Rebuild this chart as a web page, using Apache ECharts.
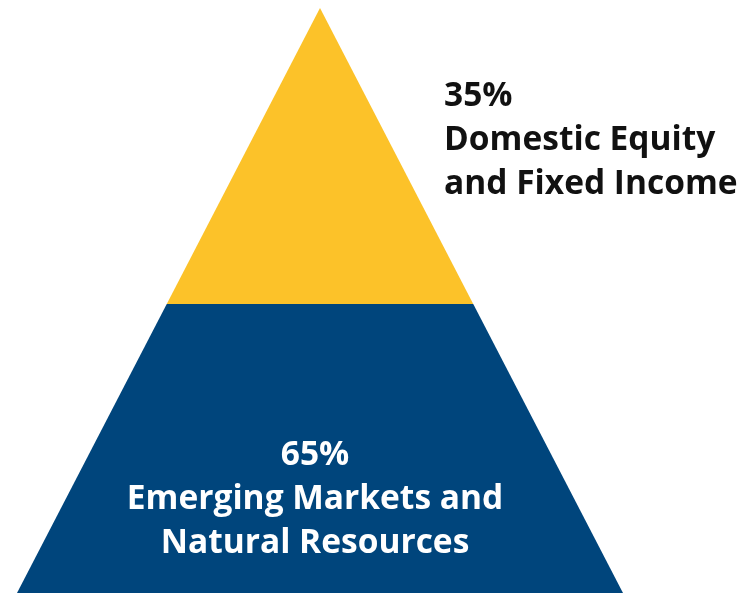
<!DOCTYPE html>
<html>
<head>
<meta charset="utf-8">
<script src="https://cdn.jsdelivr.net/npm/echarts@6/dist/echarts.min.js"></script>
<style>
html, body { margin: 0; padding: 0; background: #ffffff; }
#chart { width: 742px; height: 593px; }
</style>
</head>
<body>
<div id="chart"></div>
<script>
// Data
const categories = ['Domestic Equity and Fixed Income', 'Emerging Markets and Natural Resources'];
const shares = [35, 65];
const labelLines = [['Domestic Equity', 'and Fixed Income'], ['Emerging Markets and', 'Natural Resources']];
const colors = ['#FCC229', '#00457C'];

const chart = echarts.init(document.getElementById('chart'), null, { renderer: 'canvas' });

const fontFamily = '"Open Sans", "Liberation Sans", sans-serif';

function labelFormatter(p) {
  const i = p.dataIndex;
  const lines = ['{l|' + shares[i] + '%}'].concat(labelLines[i].map(function (s) { return '{l|' + s + '}'; }));
  return lines.join('\n');
}

// padding is used to shift the label block away from the segment centre
const labelCfg = [
  {
    show: true,
    position: 'inside',
    padding: [0, 0, 32, 548],
    formatter: labelFormatter,
    rich: {
      l: { fontFamily: fontFamily, fontSize: 33.5, fontWeight: 'bold', color: '#111111', lineHeight: 44, width: 300, align: 'left' }
    }
  },
  {
    show: true,
    position: 'inside',
    padding: [102, 10, 0, 0],
    formatter: labelFormatter,
    rich: {
      l: { fontFamily: fontFamily, fontSize: 33.5, fontWeight: 'bold', color: '#ffffff', lineHeight: 44, align: 'center' }
    }
  }
];

const segHeights = [296, 289];

const data = categories.map(function (name, i) {
  return {
    name: name,
    value: shares[i],
    itemStyle: { color: colors[i], height: segHeights[i] },
    label: labelCfg[i]
  };
});

chart.setOption({
  animation: false,
  backgroundColor: '#ffffff',
  series: [{
    type: 'funnel',
    left: 17,
    top: 8,
    width: 606,
    height: 585,
    sort: 'ascending',
    gap: 0,
    min: 4.3,
    max: 65,
    minSize: '0%',
    maxSize: '100%',
    labelLine: { show: false },
    itemStyle: { borderWidth: 0 },
    emphasis: { disabled: true },
    data: data
  }]
});
</script>
</body>
</html>
